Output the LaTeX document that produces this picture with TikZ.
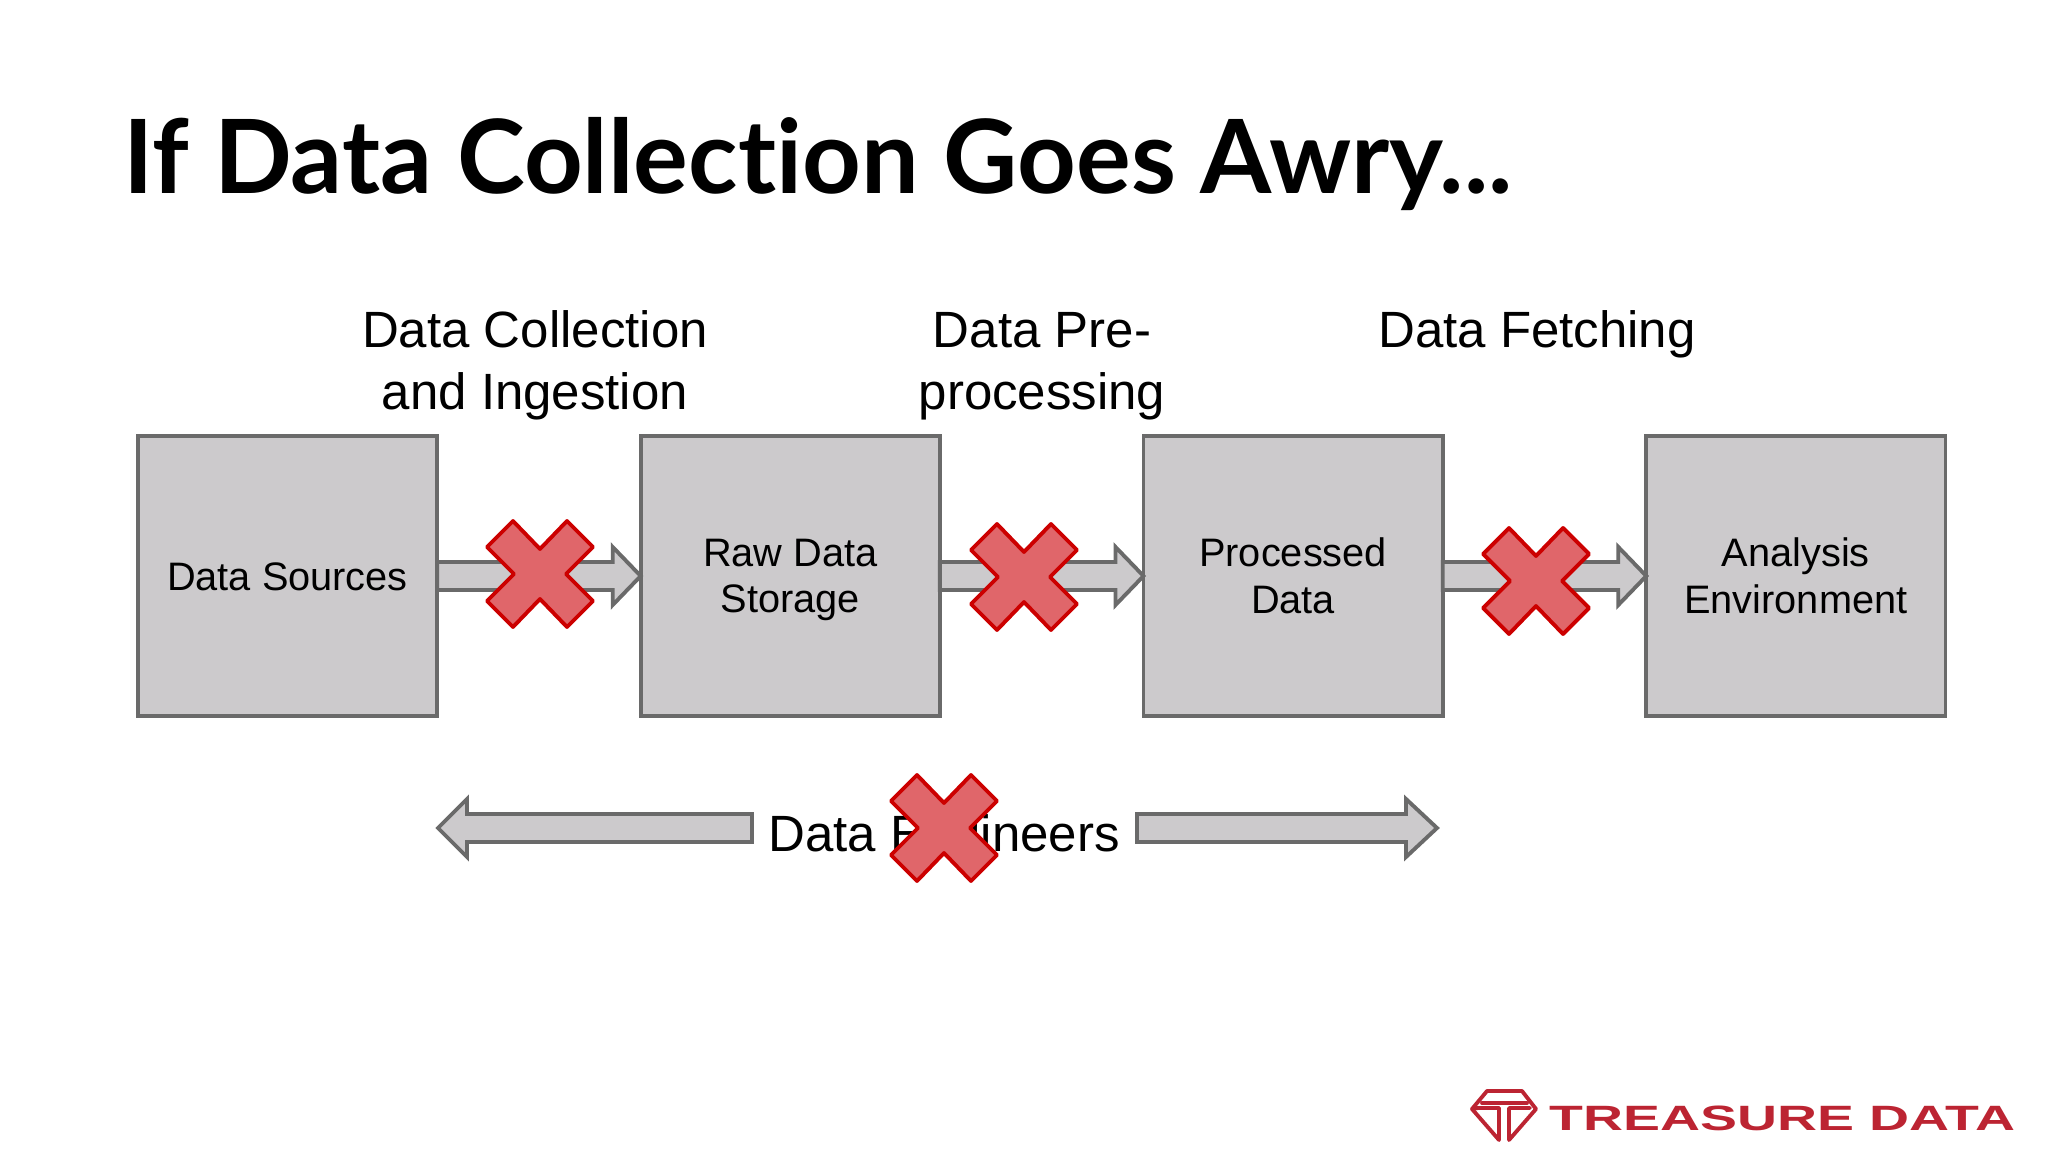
\documentclass[tikz,border=0pt]{standalone}
\usepackage{xcolor}
\usepackage{fontspec}
\setmainfont{Liberation Sans}
\newfontfamily\titlefont[Ligatures=NoCommon]{Lato}
\usetikzlibrary{positioning,calc}
\definecolor{boxfill}{HTML}{CCCACC}
\definecolor{boxedge}{HTML}{6A6A6A}
\definecolor{crossfill}{HTML}{E0666A}
\definecolor{crossedge}{HTML}{CC0000}
\definecolor{brandred}{HTML}{BC2432}
\newcommand{\boxstrut}{\rule[-2pt]{0pt}{12pt}}

\begin{document}
\begin{tikzpicture}[x=0.01cm, y=-0.01cm,
  box/.style={draw=boxedge, fill=boxfill, line width=1.1pt, outer sep=0pt, minimum width=2.99cm, minimum height=2.80cm, inner sep=0pt, align=center, font=\fontsize{11.3}{13.3}\selectfont},
  lbl/.style={align=center, inner sep=0pt, font=\fontsize{14.5}{17.6}\selectfont},
  logoline/.style={brandred, line width=1.1pt, line join=round, line cap=round},
  blockarr/.style={draw=boxedge, fill=boxfill, line width=1.1pt, line join=miter,
    to path={let \p1=(\tikztostart), \p2=(\tikztotarget) in
      (\x1,\y1+0.14cm) -- (\x2-#1,\y1+0.14cm) -- (\x2-#1,\y1+0.29cm) -- (\x2,\y1)
      -- (\x2-#1,\y1-0.29cm) -- (\x2-#1,\y1-0.14cm) -- (\x1,\y1-0.14cm) -- cycle}},
  pics/crossmark/.style={code={
    \draw[fill=crossfill, draw=crossedge, line width=1.1pt, line join=round]
      (-27,-53) -- (0,-25) -- (27,-53) -- (53,-27) -- (26,0) -- (53,27) -- (27,53)
      -- (0,25) -- (-27,53) -- (-53,27) -- (-26,0) -- (-53,-27) -- cycle;}}]
\useasboundingbox (0,0) rectangle (2048,1152);
\node[anchor=base west, inner sep=0pt, font=\titlefont\bfseries\fontsize{29.13}{31}\selectfont] (title) at (123,194) {If Data Collection Goes Awry...};
% pipeline
\node[box] (sources) at (287.5,576) {\boxstrut Data Sources\boxstrut};
\node[box, right=2.035cm of sources] (raw) {\boxstrut Raw Data\\Storage\boxstrut};
\node[box, right=2.035cm of raw] (processed) {\boxstrut Processed\\Data\boxstrut};
\node[box, right=2.035cm of processed] (analysis) {\boxstrut Analysis\\Environment\boxstrut};
\draw[blockarr=0.28cm] (sources.east) to (raw.west);
\draw[blockarr=0.28cm] (raw.east) to (processed.west);
\draw[blockarr=0.28cm] (processed.east) to (analysis.west);
\node[lbl] (collect) at (535,365) {Data Collection\\and Ingestion};
\node[lbl] (prep) at (1042,366) {Data Pre-\\processing};
\node[lbl, anchor=north] (fetch) at (1537,310) {Data Fetching};
% engineers
\node[lbl] (eng) at (944,838) {Data Engineers};
\coordinate (engleft) at (438,828);
\coordinate (engright) at (1437,828);
\coordinate (leftstart) at (752,828);
\coordinate (rightstart) at (1137,828);
\draw[blockarr=-0.29cm] (leftstart) to (engleft);
\draw[blockarr=0.31cm] (rightstart) to (engright);
\pic (crossa) at (540,574) {crossmark};
\pic (crossb) at (1024,577) {crossmark};
\pic (crossc) at (1536,581) {crossmark};
\pic (crossd) at (944,828) {crossmark};
% logo
\draw[logoline] (1499,1108) -- (1478,1108) -- (1472,1109) -- (1487,1091) -- (1522,1091) -- (1536,1109) -- (1509,1140) -- (1509,1108) -- (1530,1108);
\draw[logoline] (1472,1109) -- (1499,1140) -- (1499,1108);
\draw[logoline] (1482,1103) -- (1527,1103);
\node[anchor=base west, inner sep=0pt, text=brandred, font=\bfseries\fontsize{10}{12}\selectfont] (brand) at (1549,1130) {\scalebox{1.575}[1]{TREASURE DATA}};
\end{tikzpicture}
\end{document}
